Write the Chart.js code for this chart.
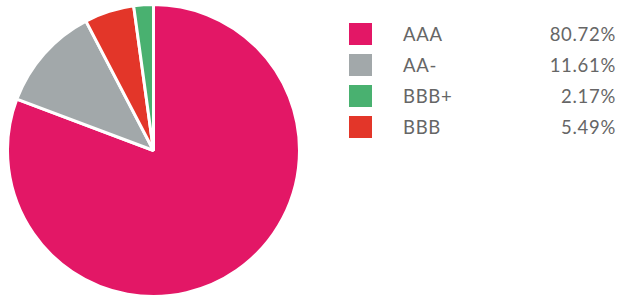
<!DOCTYPE html>
<html>
<head>
<meta charset="utf-8">
<script src="https://cdn.jsdelivr.net/npm/chart.js@4/dist/chart.umd.min.js"></script>
<style>
body{margin:0;background:#fff;width:617px;height:298px;overflow:hidden;position:relative;font-family:Lato,"Noto Sans",sans-serif;}
#pieBox{position:absolute;left:6px;top:3px;width:295px;height:295px;}
#legend{position:absolute;left:349px;top:23px;width:266px;}
.row{position:relative;height:31px;}
.sw{position:absolute;left:0;top:0;width:23px;height:22px;}
.lab{position:absolute;left:54px;top:-1px;font-size:18.5px;line-height:24px;color:#666;letter-spacing:0.7px;}
.pct{position:absolute;right:-1px;top:-1px;font-size:18.5px;line-height:24px;color:#666;letter-spacing:0.7px;}
</style>
</head>
<body>
<div id="pieBox"><canvas id="ratingChart"></canvas></div>
<div id="legend"></div>
<script>
// drawn clockwise from 12 o'clock
var labels=["AAA","AA-","BBB","BBB+"];
var values=[80.72,11.61,5.49,2.17];
var colors=["#e31766","#a2a8aa","#e33629","#49b170"];
// legend shows BBB+ before BBB
var legendOrder=[0,1,3,2];

new Chart(document.getElementById("ratingChart"),{
type:"pie",
data:{
labels:labels,
datasets:[{
data:values,
backgroundColor:colors,
borderColor:"#ffffff",
borderWidth:3
}]
},
options:{
responsive:true,
maintainAspectRatio:false,
animation:false,
layout:{padding:0},
plugins:{
legend:{display:false},
tooltip:{enabled:false}
}
}
});

var lg=document.getElementById("legend");
legendOrder.forEach(function(i){
var row=document.createElement("div");
row.className="row";
row.innerHTML='<div class="sw" style="background:'+colors[i]+'"></div>'+
'<div class="lab">'+labels[i]+'</div>'+
'<div class="pct">'+values[i].toFixed(2)+'%</div>';
lg.appendChild(row);
});
</script>
</body>
</html>
